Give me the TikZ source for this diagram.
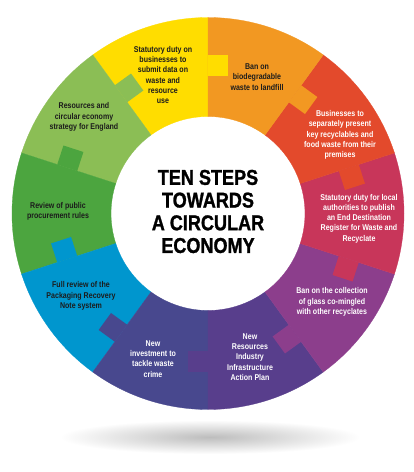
\documentclass[tikz,border=0pt]{standalone}
\usepackage{fontspec}
\newfontfamily\segfont[FakeStretch=0.84]{Liberation Sans}
\newfontfamily\titlefont[FakeStretch=0.84,FakeBold=1.2]{Liberation Sans}
\definecolor{cyel}{RGB}{255,221,0}
\definecolor{cora}{RGB}{242,152,34}
\definecolor{cred}{RGB}{227,74,44}
\definecolor{ccri}{RGB}{200,54,90}
\definecolor{cpur}{RGB}{140,62,140}
\definecolor{cdpu}{RGB}{88,62,140}
\definecolor{cind}{RGB}{72,72,142}
\definecolor{cblu}{RGB}{0,150,206}
\definecolor{cgrn}{RGB}{76,165,63}
\definecolor{clgr}{RGB}{139,190,85}
\definecolor{ctext}{RGB}{28,28,28}
\begin{document}
\begin{tikzpicture}[x=1pt,y=1pt,
  seg/.style={font=\segfont\bfseries\fontsize{8.4}{10.3}\selectfont, align=center, inner sep=0pt},
  darktxt/.style={seg, text=ctext},
  lighttxt/.style={seg, text=white}]
\useasboundingbox (0,0) rectangle (414,472);
\fill[white] (0,0) rectangle (414,472);
\coordinate (C) at (208,258.5);
% shadow
\shade[inner color=black!26, outer color=white] (210,35) ellipse [x radius=150, y radius=17];
% sectors
\foreach \a/\c in {90/cyel,126/clgr,162/cgrn,198/cblu,234/cind,270/cdpu,306/cpur,342/ccri,18/cred,54/cora}{
  \filldraw[fill=\c, draw=\c, line width=0.3pt, shift={(C)}]
    (\a:97) -- (\a:196) arc[start angle=\a, end angle=\a+36, radius=196]
    -- ({\a+36}:97) arc[start angle=\a+36, end angle=\a, radius=97] -- cycle;
}
% puzzle tabs
\foreach \a/\c in {90/cyel,126/clgr,162/cgrn,198/cblu,234/cind,270/cdpu,306/cpur,342/ccri,18/cred,54/cora}{
  \fill[\c, shift={(C)}] (\a:137.5) -- ++({\a-90}:20) -- ++(\a:21) -- ++({\a+90}:20) -- cycle;
}
% title
\node[font=\titlefont\bfseries\fontsize{21.5}{22.7}\selectfont, align=center, inner sep=0pt, text=black]
  (title) at (208,260.5) {TEN STEPS\\TOWARDS\\A CIRCULAR\\ECONOMY};
% segment texts
\node[darktxt] (s1) at (163,397) {Statutory duty on\\businesses to\\submit data on\\waste and\\resource\\use};
\node[darktxt] (s2) at (84,355) {Resources and\\circular economy\\strategy for England};
\node[darktxt] (s3) at (58,261) {Review of public\\procurement rules};
\node[darktxt] (s4) at (81,176) {Full review of the\\Packaging Recovery\\Note system};
\node[lighttxt] (s5) at (153,113) {New\\investment to\\tackle waste\\crime};
\node[lighttxt] (s6) at (250,115) {New\\Resources\\Industry\\Infrastructure\\Action Plan};
\node[lighttxt] (s7) at (332,170) {Ban on the collection\\of glass co-mingled\\with other recyclates};
\node[lighttxt] (s8) at (359,253.5) {Statutory duty for local\\authorities to publish\\an End Destination\\Register for Waste and\\Recyclate};
\node[lighttxt] (s9) at (340,337) {Businesses to\\separately present\\key recyclables and\\food waste from their\\premises};
\node[darktxt] (s10) at (257,395) {Ban on\\biodegradable\\waste to landfill};
\end{tikzpicture}
\end{document}
